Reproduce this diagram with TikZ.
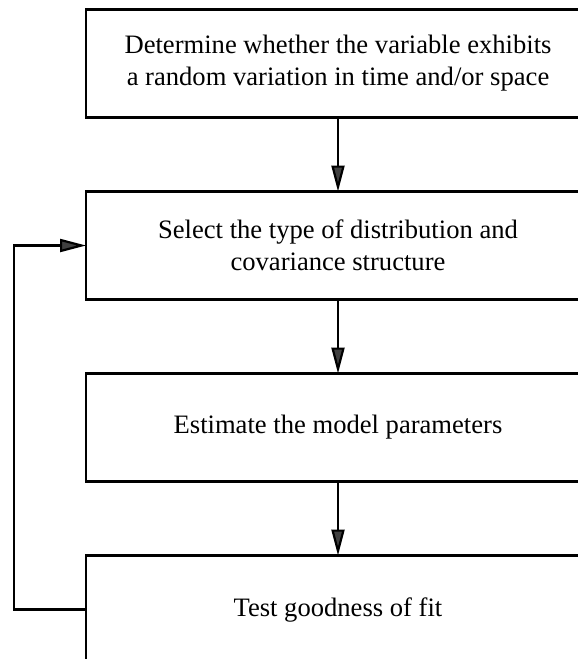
\documentclass[tikz,border=0pt]{standalone}
\usepackage{fontspec}
\setmainfont{Liberation Serif}
\usetikzlibrary{positioning,arrows.meta}

\tikzset{
  stage/.style={draw=black, line width=1.4pt, minimum width=252pt, minimum height=54pt,
    align=center, font=\fontsize{13.3}{16}\selectfont, inner sep=0pt, outer sep=0pt},
  flow/.style={line width=1.1pt, -{Triangle[length=13pt,width=6.5pt,fill=black!75]}}
}

\begin{document}
\begin{tikzpicture}[x=0.5pt,y=-0.5pt, node distance=37pt]
      \useasboundingbox (0,0) rectangle (578,659);
      \clip (0,0) rectangle (578,659);
      \node[stage] (detect) at (338,63.5) {Determine whether the variable exhibits\\a random variation in time and/or space};
      \node[stage, below=of detect] (select) {Select the type of distribution and\\covariance structure};
      \node[stage, below=of select] (estim) {Estimate the model parameters};
      \node[stage, below=of estim] (fit) {Test goodness of fit};
      \draw[flow] (detect) -- (select);
      \draw[flow] (select) -- (estim);
      \draw[flow] (estim) -- (fit);
      \coordinate (back) at (14,0);
      \draw[flow] (fit.west) -- (fit.west -| back) |- (select.west);
    \end{tikzpicture}
\end{document}
